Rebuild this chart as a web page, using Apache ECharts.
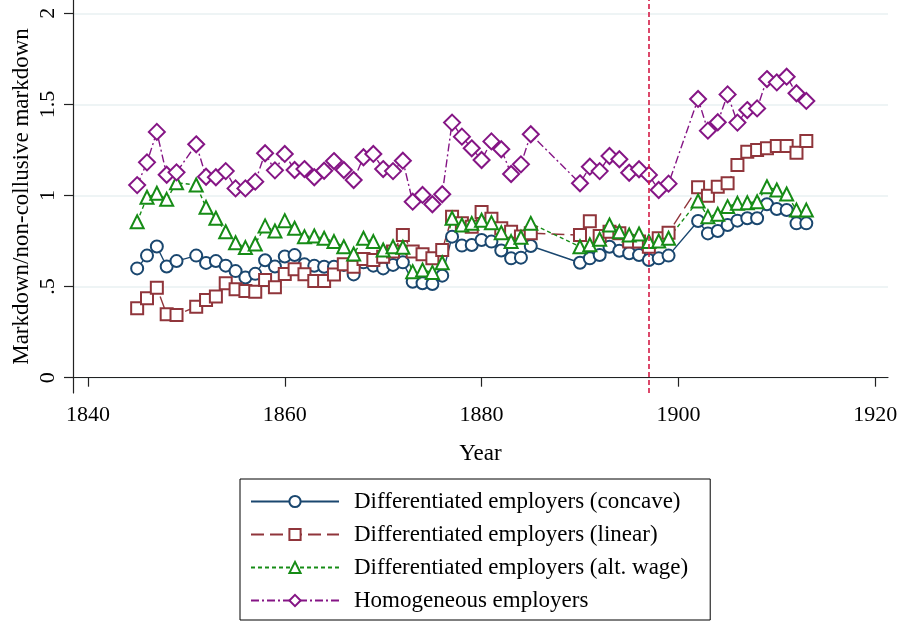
<html>
<head>
<meta charset="utf-8">
<title>Markdown/non-collusive markdown</title>
<script src="https://cdn.jsdelivr.net/npm/echarts@6/dist/echarts.min.js"></script>
<style>
  html, body { margin: 0; padding: 0; background: #fff; }
  #main { width: 903px; height: 625px; }
</style>
</head>
<body>
<div id="main"></div>
<script>
// years with data (1850, 1886-1889 and 1900-1901 are missing)
var years = [1845, 1846, 1847, 1848, 1849,
  1851, 1852, 1853, 1854, 1855, 1856, 1857, 1858, 1859, 1860, 1861, 1862, 1863, 1864, 1865,
  1866, 1867, 1868, 1869, 1870, 1871, 1872, 1873, 1874, 1875, 1876, 1877, 1878, 1879, 1880,
  1881, 1882, 1883, 1884, 1885,
  1890, 1891, 1892, 1893, 1894, 1895, 1896, 1897, 1898, 1899,
  1902, 1903, 1904, 1905, 1906, 1907, 1908, 1909, 1910, 1911, 1912, 1913];

var concave = [0.60, 0.67, 0.72, 0.61, 0.64,
  0.67, 0.63, 0.64, 0.615, 0.585, 0.55, 0.57, 0.645, 0.61, 0.665, 0.673, 0.622, 0.614, 0.609, 0.609,
  0.619, 0.567, 0.633, 0.615, 0.60, 0.619, 0.633, 0.527, 0.518, 0.514, 0.56, 0.774, 0.725, 0.728, 0.756,
  0.747, 0.698, 0.655, 0.659, 0.723,
  0.631, 0.655, 0.673, 0.719, 0.697, 0.683, 0.673, 0.646, 0.655, 0.670,
  0.86, 0.792, 0.805, 0.838, 0.862, 0.875, 0.875, 0.952, 0.926, 0.92, 0.847, 0.847];

var linear = [0.381, 0.436, 0.494, 0.348, 0.344,
  0.39, 0.426, 0.445, 0.518, 0.485, 0.476, 0.472, 0.536, 0.496, 0.569, 0.595, 0.568, 0.531, 0.531, 0.567,
  0.622, 0.609, 0.651, 0.646, 0.664, 0.692, 0.783, 0.692, 0.677, 0.655, 0.701, 0.884, 0.847, 0.829, 0.91,
  0.873, 0.82, 0.801, 0.775, 0.793,
  0.783, 0.859, 0.778, 0.801, 0.793, 0.747, 0.747, 0.719, 0.765, 0.796,
  1.045, 0.999, 1.048, 1.067, 1.167, 1.24, 1.25, 1.259, 1.272, 1.272, 1.235, 1.299];

var altWage = [0.856, 0.99, 1.012, 0.979, 1.07,
  1.058, 0.935, 0.875, 0.801, 0.741, 0.714, 0.734, 0.833, 0.805, 0.862, 0.82, 0.774, 0.778, 0.765, 0.747,
  0.719, 0.679, 0.765, 0.747, 0.701, 0.719, 0.716, 0.582, 0.591, 0.578, 0.631, 0.875, 0.838, 0.847, 0.864,
  0.851, 0.796, 0.747, 0.771, 0.847,
  0.719, 0.73, 0.76, 0.838, 0.801, 0.783, 0.789, 0.747, 0.75, 0.765,
  0.97, 0.884, 0.897, 0.939, 0.957, 0.96, 0.966, 1.048, 1.03, 1.008, 0.92, 0.92];

var homogeneous = [1.057, 1.182, 1.349, 1.114, 1.127,
  1.281, 1.103, 1.10, 1.134, 1.039, 1.039, 1.076, 1.232, 1.138, 1.228, 1.14, 1.145, 1.10, 1.136, 1.189,
  1.14, 1.085, 1.21, 1.228, 1.145, 1.134, 1.191, 0.966, 1.003, 0.952, 1.007, 1.40, 1.323, 1.259, 1.195,
  1.297, 1.254, 1.118, 1.171, 1.336,
  1.067, 1.158, 1.134, 1.217, 1.199, 1.125, 1.144, 1.113, 1.03, 1.065,
  1.53, 1.356, 1.402, 1.555, 1.40, 1.469, 1.478, 1.639, 1.621, 1.652, 1.561, 1.519];

var xTicks = [1840, 1860, 1880, 1900, 1920];
var yTicks = [0, 0.5, 1, 1.5, 2];
var cutoffYear = 1897;

var seriesNames = ['Differentiated employers (concave)', 'Differentiated employers (linear)',
  'Differentiated employers (alt. wage)', 'Homogeneous employers'];

var font = 'Liberation Serif';

function pairs(vals) {
  var out = [];
  for (var i = 0; i < years.length; i++) {
    out.push([years[i], vals[i]]);
  }
  return out;
}

function mkSeries(name, vals, color, symbol, size, dash) {
  return {
    name: name,
    type: 'line',
    data: pairs(vals),
    symbol: symbol,
    symbolSize: size,
    lineStyle: { color: color, width: 1.4, type: dash },
    itemStyle: { color: color, borderWidth: 1.8 },
    emphasis: { disabled: true }
  };
}

var myChart = echarts.init(document.getElementById('main'));

var ser = [
  mkSeries(seriesNames[0], concave, '#1a476f', 'emptyCircle', 12, 'solid'),
  mkSeries(seriesNames[1], linear, '#90353b', 'emptyRect', 12, [13, 6]),
  mkSeries(seriesNames[2], altWage, '#168c16', 'emptyTriangle', 13, [4, 3]),
  mkSeries(seriesNames[3], homogeneous, '#851585', 'emptyDiamond', 16, [8, 3, 2, 3])
];

// vertical reference line
ser[0].markLine = {
  silent: true,
  symbol: 'none',
  label: { show: false },
  lineStyle: { color: '#d41c46', width: 1.6, type: [5, 3] },
  data: [{ xAxis: cutoffYear }]
};

var option = {
  animation: false,
  backgroundColor: '#fff',
  grid: { left: 73, right: 15, top: 0, bottom: 232, outerBoundsMode: 'none', containLabel: false },
  xAxis: {
    type: 'value',
    min: 1838.48,
    max: 1921.3,
    name: 'Year',
    nameLocation: 'middle',
    nameGap: 49,
    nameTextStyle: { fontFamily: font, fontSize: 23, color: '#000' },
    axisLine: { lineStyle: { color: '#222', width: 1.2 } },
    axisTick: { customValues: xTicks, length: 9, lineStyle: { color: '#222', width: 1.2 } },
    axisLabel: {
      customValues: xTicks, fontFamily: font, fontSize: 22, color: '#000', margin: 11,
      formatter: function (v) { return String(v); }
    },
    splitLine: { show: false }
  },
  yAxis: {
    type: 'value',
    min: -0.084,
    max: 2.073,
    name: 'Markdown/non-collusive markdown',
    nameLocation: 'middle',
    nameGap: 40,
    nameMoveOverlap: false,
    nameTextStyle: { fontFamily: font, fontSize: 23, color: '#000' },
    axisLine: { show: true, lineStyle: { color: '#222', width: 1.2 } },
    axisTick: { show: true, customValues: yTicks, length: 9, lineStyle: { color: '#222', width: 1.2 } },
    axisLabel: {
      customValues: yTicks,
      rotate: 90,
      fontFamily: font, fontSize: 22, color: '#000', margin: 14,
      formatter: function (v) {
        var s = String(v);
        return s.charAt(0) === '0' && s.length > 1 ? s.substring(1) : s;
      }
    },
    splitLine: { show: true, lineStyle: { color: '#e8f0f2', width: 1.5 } }
  },
  legend: {
    data: seriesNames,
    orient: 'vertical',
    left: 240,
    top: 479,
    height: 170,
    itemWidth: 88,
    itemHeight: 14,
    itemGap: 10,
    borderColor: '#000',
    borderWidth: 1,
    padding: [11, 22, 8, 10],
    textStyle: { fontFamily: font, fontSize: 23, color: '#000', padding: [0, 0, 0, 10] },
    selectedMode: false
  },
  series: ser
};

myChart.setOption(option);
</script>
</body>
</html>
